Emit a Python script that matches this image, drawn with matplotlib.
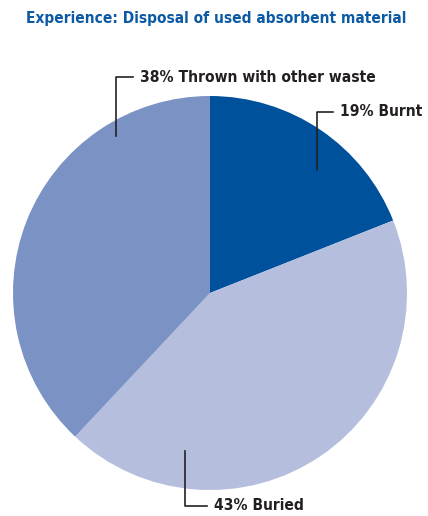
import numpy as np
import matplotlib.pyplot as plt

labels = ['Burnt', 'Buried', 'Thrown with other waste']
shares = [19, 43, 38]
colors = ['#00519c', '#b5bedd', '#7b92c5']

# leader line anchor: (angle deg, radius fraction), elbow y, text x
leaders = [(49, 0.83, 112, 340), (261, 0.81, 506, 214), (121, 0.93, 77, 140)]

plt.rcParams['font.family'] = ['DejaVu Sans']
plt.rcParams['font.stretch'] = 'condensed'

fig = plt.figure(figsize=(4.28, 5.16), dpi=100)
ax = fig.add_axes([0, 0, 1, 1])
cx, cy, r = 210, 293, 197
# y axis is inverted below, so drawing counterclockwise from -90 shows clockwise from top
ax.pie(shares, colors=colors, startangle=-90, counterclock=True,
       center=(cx, cy), radius=r, wedgeprops=dict(linewidth=0))
ax.set_xlim(0, 428)
ax.set_ylim(516, 0)
ax.set_aspect('equal')
ax.axis('off')

for (ang, frac, ey, tx), lab, s in zip(leaders, labels, shares):
    ax_x = cx + frac * r * np.cos(np.radians(ang))
    ax_y = cy - frac * r * np.sin(np.radians(ang))
    ax.plot([ax_x, ax_x, tx - 7], [ax_y, ey, ey], color='#222222', lw=1.2)
    ax.text(tx, ey, f'{s}% {lab}', fontsize=11.2, fontweight='bold',
            fontstretch='condensed', color='#231f20', va='center', ha='left')

fig.text(26 / 428, 1 - 18 / 516, 'Experience: Disposal of used absorbent material',
         fontsize=11.1, fontweight='bold', fontstretch='condensed',
         color='#0b5aa3', va='center', ha='left')
fig.savefig('out.png', dpi=100)
